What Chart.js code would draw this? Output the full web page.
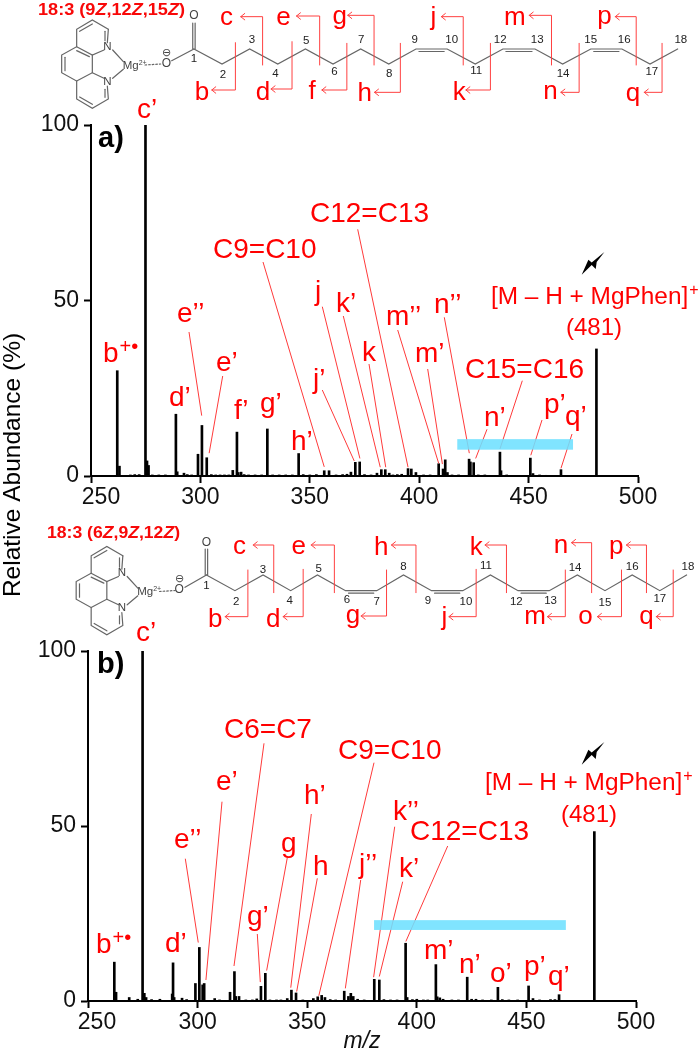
<!DOCTYPE html>
<html><head><meta charset="utf-8">
<script src="https://cdn.jsdelivr.net/npm/chart.js@4"></script>
<style>html,body{margin:0;padding:0;background:#fff}canvas{position:absolute;left:0;top:0}</style>
</head><body>
<canvas id="a" width="699" height="1050"></canvas>
<canvas id="b" width="699" height="1050"></canvas>
<script>
// ---------- spectrum data ----------
const mzA = [262,263,268,270,272,274.9,275.6,276.3,278,281,284,288.8,289.4,292.5,294,296,298.9,300.7,302.9,305,307,309,311,313,314.8,316.7,317.3,318.6,320,322,325,328,330.6,333,336,339,342,344.9,347,350,353,356.6,358.8,362,365,367,368.8,370.8,372.8,375,378,380.7,382.7,384.5,386.3,388,390,392,394.9,396.4,398.5,402,405,408.9,410.9,411.9,412.9,415,418,422.8,423.4,424.9,427,430,436.9,437.4,440,450.8,452,455,458,464.8,481];
const abundanceA = [30,2.8,0.3,0.4,0.4,100,4.3,3,0.3,0.3,0.3,17.6,1.2,0.8,0.4,0.3,6.2,14.4,5.2,0.4,0.3,0.3,0.3,0.3,1.6,12.5,1,1.1,0.4,0.3,0.3,0.3,13.4,0.3,0.3,0.3,0.3,6.4,0.4,0.3,0.4,1.5,1.5,0.3,0.4,0.5,1.1,3.9,4,0.4,0.3,0.8,1.8,1.8,0.8,0.3,0.4,0.5,2.1,2,1,0.3,0.3,3.5,2,4.6,1,0.3,0.3,4.8,4,3.8,0.3,0.3,6.8,1.5,0.3,5.1,0.7,0.3,0.2,1.8,36.2];
const mzB = [262,262.8,268.8,272.7,274.9,275.7,276.5,279,282.8,288.4,288.8,289.3,292.9,295,299,300.8,302.3,303,307.8,310,314.8,316.8,317.4,318.9,322,325,327,328.9,330.9,333,336,338,340.9,342.8,344.9,348,352.8,354.8,356.6,358.1,360.5,363,366.9,368.8,369.9,371,373,376,380.6,382.9,385,388,391,394.9,395.6,398,400,403,405,408.7,409.3,410.5,412,416,419,423,425,427,430,434,437,439,442,446,451,453,456,461,463,464.9,481];
const abundanceB = [11.1,2.5,1,0.5,100,2.2,1,0.4,0.5,2,10.9,1,0.8,0.4,5,15.3,4.6,5,0.7,0.3,2.5,8.4,1.3,1.3,0.3,0.3,0.6,4.2,7.9,0.3,0.3,0.3,0.7,3.1,2.3,0.3,0.7,1.2,1.6,1,0.4,0.3,2.8,1.3,2.2,1.3,0.5,0.3,6.2,6,0.4,0.3,0.3,16.5,1,0.4,0.5,0.3,0.3,10.4,1.2,0.9,0.5,0.3,0.3,6.8,0.5,0.5,0.3,0.3,3.9,0.4,0.3,0.3,4.3,0.7,0.3,0.4,0.4,1.8,48.4];
const xRange = [250, 500];
const xStep = 50;
const yStep = 50;
const yAxisTitle = 'Relative Abundance (%)';
const xAxisTitle = 'm/z';

// ---------- styling helpers ----------
const SANS = '"Liberation Sans", Arial, sans-serif';
const RED = '#ff0000', LEAD = '#ff3a3a', GREY = '#666666';

function label(ctx, l) {
  ctx.fillStyle = l.c || RED;
  ctx.textAlign = 'left';
  ctx.textBaseline = 'alphabetic';
  ctx.font = (l.b ? 'bold ' : '') + (l.s || 28) + 'px ' + SANS;
  ctx.fillText(l.t, l.x, l.y);
  if (l.sup) {
    const w = ctx.measureText(l.t).width;
    ctx.font = (l.ss || 20) + 'px ' + SANS;
    ctx.fillText(l.sup, l.x + w + 1, l.y - (l.sr || 9));
  }
}
function lightning(ctx, x, y) {
  ctx.fillStyle = '#000';
  ctx.beginPath();
  [[22.7,0],[15,10],[14,17],[10,13],[0,22.7],[6.7,7.7],[10,10.5]].forEach((p,i)=> i ? ctx.lineTo(x+p[0],y+p[1]) : ctx.moveTo(x+p[0],y+p[1]));
  ctx.closePath(); ctx.fill();
}
function poly(ctx, pts) {
  ctx.beginPath();
  pts.forEach((p,i)=> i ? ctx.lineTo(p[0],p[1]) : ctx.moveTo(p[0],p[1]));
  ctx.stroke();
}
function smallText(ctx, t, x, y, size, color) {
  ctx.fillStyle = color || '#222';
  ctx.font = (size || 11) + 'px ' + SANS;
  ctx.textAlign = 'center';
  ctx.textBaseline = 'middle';
  ctx.fillText(t, x, y);
}
function dblBond(ctx, a, b, side) {
  ctx.beginPath(); ctx.moveTo(a[0]+3,a[1]+side*2.5); ctx.lineTo(b[0]-3,b[1]+side*2.5); ctx.stroke();
}
// Phenanthroline-Mg fragment, shared by both panels (drawn from sketch units at 3 per page pixel)
const ringPaths = [
  [[235,88],[187,60],[140,88],[140,140],[95,165],[95,218],[140,243],[140,297],[187,325],[235,297],[232,258]],
  [[222,150],[187,165],[140,140]],[[187,165],[187,218],[140,243]],[[187,218],[222,235]],
  [[235,88],[232,128]],
  [[149,94],[187,72]],[[225,94],[225,122]],[[105,172],[105,212]],[[149,291],[187,313]],[[225,268],[225,292]],[[140,152],[178,170]],
  [[248,150],[280,185]],[[248,235],[280,208]]
];
const ringAtoms = [['N',232,140,11.5],['N',232,245,11.5],['Mg',302,197,11.5],['2+',338,188,7]];
const ringDash = [[345,195],[392,192]];
function fragment(ctx, ox, oy) {
  const P = p => [ox + p[0]/3, oy + p[1]/3];
  ctx.strokeStyle = GREY; ctx.lineWidth = 1.2;
  ringPaths.forEach(s => poly(ctx, s.map(P)));
  ctx.setLineDash([1.6,2]); poly(ctx, ringDash.map(P)); ctx.setLineDash([]);
  ringAtoms.forEach(a => { const q = P([a[1],a[2]]); smallText(ctx, a[0], q[0], q[1], a[3], '#444'); });
}
function molecule(ctx, m) {
  const sx = 1/2.243, sy = 1/3;
  const P = p => [p[0]*sx, p[1]*sy + m.oy];
  ctx.save();
  ctx.lineCap = 'round';
  fragment(ctx, m.rx, m.ry);
  ctx.strokeStyle = GREY; ctx.lineWidth = 1.2;
  m.bonds.forEach(s => poly(ctx, s.map(P)));
  poly(ctx, m.chain.map(c => P([c[0],c[1]])));
  m.dbl.forEach(i => dblBond(ctx, P(m.chain[i]), P(m.chain[i+1]), 1));
  const c1 = P(m.chain[0]);
  poly(ctx, [[c1[0]-1.2,c1[1]],[c1[0]-1.2,c1[1]-m.coLen]]);
  poly(ctx, [[c1[0]+1.2,c1[1]],[c1[0]+1.2,c1[1]-m.coLen]]);
  m.chain.forEach((c,i) => { const q = P([c[2],c[3]]); smallText(ctx, String(i+1), q[0], q[1], 11.5, '#222'); });
  m.atoms.forEach(a => { const q = P([a[1],a[2]]); smallText(ctx, a[0], q[0], q[1], a[3] || 11, '#444'); });
  ctx.strokeStyle = '#ff4040'; ctx.lineWidth = 1;
  m.arrows.forEach(a => {
    const [name, vx, ax, y1, y2, lx, ly] = a;
    const s = P([vx,y1]), c = P([vx,y2]), e = P([ax,y2]);
    poly(ctx, [s,c,e]);
    poly(ctx, [[e[0]+4,e[1]-3.2],e,[e[0]+4,e[1]+3.2]]);
    const q = P([lx,ly]);
    ctx.fillStyle = RED; ctx.font = '26px ' + SANS;
    ctx.textAlign = 'center'; ctx.textBaseline = 'alphabetic';
    ctx.fillText(name, q[0], q[1]);
  });
  ctx.fillStyle = '#f80808';
  const segs = m.title;
  const F = s => (s[1] ? 'italic ' : '') + 'bold 17px ' + SANS;
  let w = 0;
  segs.forEach(s => { ctx.font = F(s); w += ctx.measureText(s[0]).width; });
  ctx.translate(m.tx, m.ty); ctx.scale(m.tw / w, 1);
  ctx.textAlign = 'left'; ctx.textBaseline = 'alphabetic';
  let x = 0;
  segs.forEach(s => { ctx.font = F(s); ctx.fillText(s[0], x, 0); x += ctx.measureText(s[0]).width; });
  ctx.restore();
}

// ---------- panel layout ----------
const titleSegsA = [['18:3 (9',0],['Z',1],[',12',0],['Z',1],[',15',0],['Z',1],[')',0]];
const titleSegsB = [['18:3 (6',0],['Z',1],[',9',0],['Z',1],[',12',0],['Z',1],[')',0]];
const molA = {
  oy: 0, rx: 30, ry: 0, tx: 38, ty: 15, tw: 147, title: titleSegsA, coLen: 26,
  bonds: [[[385,182],[435,147]]],
  chain: [[435,147,435,177],[498,192,500,225],[560,147,565,120],[623,192,618,222],[685,147,687,122],[747,192,750,215],[809,147,810,120],[872,192,873,222],[933,147,930,120],[1003,147,1013,120],[1066,192,1068,213],[1128,147,1122,120],[1200,147,1205,120],[1262,192,1263,222],[1325,147,1325,120],[1395,147,1400,118],[1458,192,1462,215],[1520,147,1527,118]],
  dbl: [8,11,14],
  atoms: [['O',435,48,12],['O',373,190,12],['⊖',373,160,11]],
  arrows: [['c',589,540,195,50,508,74],['e',717,665,195,48,636,74],['g',839,780,195,46,762,72],['j',1039,990,195,50,972,76],['m',1237,1187,195,46,1155,74],['p',1427,1380,195,50,1356,72],
           ['b',528,475,128,270,453,300],['d',655,608,125,267,590,300],['f',778,722,130,270,700,298],['h',898,840,130,277,818,302],['k',1100,1045,130,270,1030,300],['n',1299,1258,130,277,1235,298],['q',1485,1445,130,277,1420,302]]
};
const molB = {
  oy: 510, rx: 44.5, ry: 526.5, tx: 47, ty: 538, tw: 133, title: titleSegsB, coLen: 26,
  bonds: [[[415,232],[463,195]]],
  chain: [[463,195,463,228],[527,242,530,275],[590,195,590,178],[652,242,650,272],[712,195,715,175],[775,242,778,268],[845,242,845,275],[905,195,905,170],[968,242,960,272],[1038,242,1045,275],[1100,195,1090,168],[1162,242,1158,275],[1232,242,1235,272],[1295,195,1290,172],[1357,242,1357,278],[1418,195,1418,170],[1480,242,1480,265],[1540,195,1543,170]],
  dbl: [5,8,11],
  atoms: [['O',463,98,12],['O',402,240,12],['⊖',402,208,11]],
  arrows: [['c',614,568,248,105,537,132],['e',750,698,248,105,670,132],['h',933,878,248,105,855,134],['k',1136,1088,248,105,1068,136],['n',1327,1282,248,98,1258,130],['p',1450,1405,248,105,1382,132],
           ['b',556,505,180,320,483,350],['d',680,635,178,320,613,350],['g',867,810,180,318,792,340],['j',1068,1007,178,320,997,346],['m',1268,1228,180,320,1200,342],['o',1394,1340,180,320,1313,342],['q',1510,1472,180,320,1450,342]]
};

const panelA = {
  mol: molA,
  labels: [
    {t:'a)',x:98,y:147,b:1,s:29,c:'#000'},{t:'c’',x:137,y:118},{t:'C12=C13',x:310,y:222},{t:'C9=C10',x:213,y:258},
    {t:'e’’',x:177,y:322},{t:'b',x:103,y:362,sup:'+•'},{t:'e’',x:216,y:371},{t:'j',x:315,y:300},{t:'k’',x:336,y:312},{t:'j’',x:313,y:388},
    {t:'k',x:362,y:361},{t:'m’’',x:386,y:325},{t:'n’’',x:434,y:313},{t:'m’',x:415,y:362},{t:'C15=C16',x:465,y:378},{t:'n’',x:484,y:426},
    {t:'p’',x:544,y:413},{t:'q’',x:565,y:425},{t:'d’',x:169,y:406},{t:'f’',x:234,y:419},{t:'g’',x:260,y:412},{t:'h’',x:291,y:450},
    {t:'[M – H + MgPhen]',x:491,y:304,s:24.4,sup:'+',ss:16,sr:9},{t:'(481)',x:566,y:335,s:24}
  ],
  leaders: [[263,262,356.6,2.6],[189,332,300.6,17.2],[222.7,376,304,6.5],[322.3,306.7,372.9,5],[322.3,390,370.3,4.3],[343.3,316,382.2,2.5],[369,364,384.7,2.5],[357.7,229.3,394.9,2.5],[397.7,330,408.9,3.6],[427.7,369,410.6,3.4],[444.3,317.3,422.9,6.5],[487,429.3,425.8,5],[522.3,380.7,436.9,7.7],[542,420,451,5.9],[572,434,464.8,2.2]],
  band: [417.4,470.3,7.5,10.5],
  bolt: [581.7,252],
  shift250: 10,
  yTitle: true
};
const panelB = {
  mol: molB,
  labels: [
    {t:'b)',x:97,y:673,b:1,s:29,c:'#000'},{t:'c’',x:136,y:641},{t:'C6=C7',x:224,y:738},{t:'e’',x:216,y:790},{t:'h’',x:304,y:804},{t:'e’’',x:174,y:848},
    {t:'g',x:281,y:852},{t:'h',x:313,y:875},{t:'g’',x:247,y:925},{t:'C9=C10',x:338,y:759},{t:'k’’',x:393,y:820},{t:'C12=C13',x:410,y:840},
    {t:'j’’',x:359,y:873},{t:'k’',x:399,y:877},{t:'m’',x:424,y:959},{t:'n’',x:459,y:973},{t:'o’',x:490,y:982},{t:'p’',x:524,y:975},{t:'q’',x:548,y:985},
    {t:'b',x:96,y:953,sup:'+•'},{t:'d’',x:165,y:952},
    {t:'[M – H + MgPhen]',x:485,y:790,s:24.4,sup:'+',ss:16,sr:9},{t:'(481)',x:561,y:822,s:24}
  ],
  leaders: [[185.3,858.7,300.3,16.7],[222,801.7,303.8,6],[264,743.3,316.6,10],[257.3,934,328.6,5.4],[287.3,857.7,331.5,8.7],[311.3,814,342.5,3.8],[317.3,878.3,345.2,2.7],[374,762.7,355.3,1.5],[360.7,880,367.4,3.6],[394.7,826.7,380.3,6.8],[402.7,881.7,382.9,7],[447.7,846,395,17]],
  band: [380.5,468,20.3,23.1],
  bolt: [581.7,742],
  shift250: 9,
  yTitle: false
};

const overlay = {
  id: 'overlay',
  beforeDraw(chart, args, o) {
    const it = chart.scales.x.getLabelItems();
    if (it && it[0] && !it[0]._moved) { it[0].options.translation[0] += o.p.shift250; it[0]._moved = true; }
  },
  afterDraw(chart, args, o) {
    const ctx = chart.ctx, x = chart.scales.x, y = chart.scales.y, p = o.p;
    ctx.save();
    molecule(ctx, p.mol);
    ctx.strokeStyle = LEAD; ctx.lineWidth = 1;
    p.leaders.forEach(l => poly(ctx, [[l[0],l[1]],[x.getPixelForValue(l[2]),y.getPixelForValue(l[3])]]));
    ctx.fillStyle = 'rgba(110,224,255,0.88)';
    const bx = x.getPixelForValue(p.band[0]), by = y.getPixelForValue(p.band[3]);
    ctx.fillRect(bx, by, x.getPixelForValue(p.band[1]) - bx, y.getPixelForValue(p.band[2]) - by);
    p.labels.forEach(l => label(ctx, l));
    lightning(ctx, p.bolt[0], p.bolt[1]);
    if (p.yTitle) {
      ctx.translate(20, 465); ctx.rotate(-Math.PI/2);
      ctx.fillStyle = '#000'; ctx.font = '24.5px ' + SANS;
      ctx.textAlign = 'center'; ctx.textBaseline = 'alphabetic';
      ctx.fillText(yAxisTitle, 0, 0);
    }
    ctx.restore();
  }
};

function spectrum(id, mz, abundance, box, panel, withTitle) {
  new Chart(document.getElementById(id), {
    type: 'bar',
    data: { datasets: [{ data: mz.map((x,i)=>({x, y: abundance[i]})), backgroundColor: '#000', borderWidth: 0, barThickness: 2 }] },
    plugins: [overlay],
    options: {
      responsive: false, animation: false, devicePixelRatio: 1,
      layout: { padding: { top: box.top, right: 699 - box.right, left: 0, bottom: 0 } },
      plugins: { legend: { display: false }, tooltip: { enabled: false }, overlay: { p: panel } },
      scales: {
        x: {
          type: 'linear', min: xRange[0], max: xRange[1], offset: false,
          grid: { offset: false, drawOnChartArea: false, drawTicks: true, tickLength: 7, tickWidth: 2, tickColor: '#000' },
          border: { color: '#000', width: 2 },
          ticks: { stepSize: xStep, maxRotation: 0, autoSkip: false, color: '#111', padding: 1, font: { family: SANS, size: 23 } },
          title: { display: withTitle, text: xAxisTitle, color: '#111', padding: { top: 0, bottom: -5 }, font: { family: SANS, size: 23, style: 'italic' } },
          afterFit(s) { s.height = 1050 - box.bottom; }
        },
        y: {
          min: 0, max: 100,
          grid: { drawOnChartArea: false, drawTicks: true, tickLength: 7, tickWidth: 2, tickColor: '#000' },
          border: { color: '#000', width: 2 },
          ticks: { stepSize: yStep, color: '#111', padding: 5, font: { family: SANS, size: 23 } },
          afterFit(s) { s.width = box.left; }
        }
      }
    }
  });
}
spectrum('a', mzA, abundanceA, {left:91, right:638, top:125, bottom:476}, panelA, false);
spectrum('b', mzB, abundanceB, {left:88, right:636, top:651, bottom:1001}, panelB, true);
</script>
</body></html>
